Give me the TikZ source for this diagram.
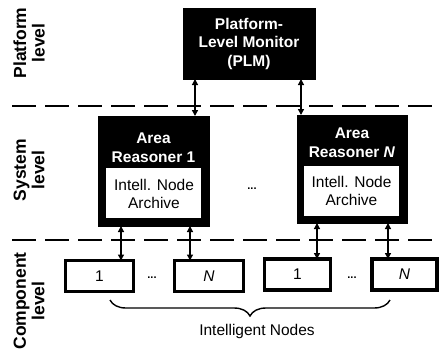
\documentclass[tikz,border=0pt]{standalone}
\usepackage{fontspec}
\setmainfont{Liberation Sans}
\usetikzlibrary{arrows.meta,decorations.pathreplacing}
\begin{document}
\begin{tikzpicture}[x=1pt,y=-1pt,
  every node/.style={inner sep=0pt, outer sep=0pt},
  txt/.style={font=\fontsize{15.5}{18.5}\selectfont, align=center},
  boldtxt/.style={font=\fontsize{15.5}{18.5}\selectfont\bfseries, align=center, text=white},
  darkbox/.style={fill=black, draw=black, line width=1pt, anchor=north west},
  archive/.style={fill=white, draw=none, anchor=north west, minimum width=95pt, minimum height=50pt},
  compbox/.style={draw=black, fill=white, line width=3.2pt, minimum height=31pt, txt},
  link/.style={line width=1.3pt, {Triangle[width=6pt,length=6pt]}-{Triangle[width=6pt,length=6pt]}},
  divider/.style={line width=2pt, dash pattern=on 24pt off 9pt},
  levellabel/.style={font=\fontsize{17.5}{18.5}\selectfont\bfseries, align=center, rotate=90},
  ellip/.style={font=\fontsize{11}{11}\selectfont\bfseries}
]
\useasboundingbox (0,0) rectangle (440,354);

% level separators
\draw[divider] (12,106) -- (440,106);
\draw[divider] (12,240) -- (440,240);

% level labels
\node[levellabel] (lplat) at (29,43) {Platform\\level};
\node[levellabel] (lsys) at (29,170) {System\\level};
\node[levellabel] (lcomp) at (29,301) {Component\\level};

% platform-level monitor
\node[darkbox, minimum width=132pt, minimum height=71pt] (plm) at (183,8) {};
\node[boldtxt] (plmtext) at (249,43.5) {Platform-\\Level Monitor\\(PLM)};

% area reasoners
\node[darkbox, minimum width=111pt, minimum height=110pt] (ar1) at (98,116) {};
\node[boldtxt] (ar1text) at (153.5,147.5) {Area\\Reasoner 1};
\node[archive] (arch1) at (106,168) {};
\node[txt] (arch1text) at (154,194) {Intell. Node\\Archive};

\node[darkbox, minimum width=110pt, minimum height=108pt] (arN) at (297,115) {};
\node[boldtxt] (arNtext) at (352,142.5) {Area\\Reasoner \textit{N}};
\node[archive] (archN) at (304,166) {};
\node[txt] (archNtext) at (351.5,191) {Intell. Node\\Archive};

\node[ellip] (dotsA) at (252,189) {...};

% intelligent nodes
\node[compbox, minimum width=68pt] (c1) at (99.5,276) {1};
\node[compbox, minimum width=69pt] (cN) at (209,276) {\textit{N}};
\node[compbox, minimum width=66pt] (d1) at (297.5,274.5) {1};
\node[compbox, minimum width=65pt] (dN) at (404.5,274.5) {\textit{N}};
\node[ellip] (dots1) at (152,278) {...};
\node[ellip] (dots2) at (352,278) {...};

% connectors
\draw[link] (195,0 |- plm.south) -- (195,0 |- ar1.north);
\draw[link] (301,0 |- plm.south) -- (301,0 |- arN.north);
\draw[link] (121,0 |- ar1.south) -- (121,0 |- c1.north);
\draw[link] (190,0 |- ar1.south) -- (190,0 |- cN.north);
\draw[link] (317,0 |- arN.south) -- (317,0 |- d1.north);
\draw[link] (388,0 |- arN.south) -- (388,0 |- dN.north);

% grouping brace
\draw[line width=1.4pt, decorate, decoration={brace, mirror, amplitude=16pt}] (110,300) -- (390,300);
\node[txt] (group) at (257,331) {Intelligent Nodes};
\end{tikzpicture}
\end{document}
